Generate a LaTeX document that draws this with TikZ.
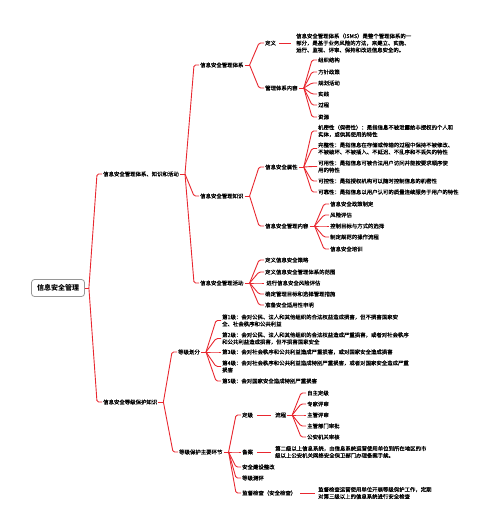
\documentclass[tikz,border=0pt]{standalone}
\usepackage{fontspec}
\setmainfont{Noto Sans CJK SC}
\newfontfamily\topicfont{Noto Sans CJK SC}[FakeBold=0.5]
\usetikzlibrary{positioning}
\definecolor{branchred}{RGB}{232,40,48}
\definecolor{rootgray}{RGB}{150,150,150}

\begin{document}
\begin{tikzpicture}[
  x=1pt, y=-1pt,
  topic/.style={anchor=west, inner sep=1pt, font=\topicfont\fontsize{5.4}{7}\selectfont, align=left},
  rootbox/.style={draw=rootgray, rounded corners=3pt, line width=0.8pt, fill=white, font=\bfseries\fontsize{7}{8}\selectfont, minimum width=53pt, minimum height=17pt, inner sep=2pt},
  branch/.style={draw=branchred, line width=0.9pt, rounded corners=1.5pt},
  link/.style={draw=branchred, line width=0.9pt}
]
\useasboundingbox (0,0) rectangle (500,532);

% Root
\node[rootbox] (root) at (58,288) {信息安全管理};
\coordinate (jroot) at ([xshift=4pt]root.east);
\draw[link] (root.east) -- (jroot);

% Level 1
\node[topic] (sys) at (102,174) {信息安全管理体系、知识和活动};
\node[topic] (grade) at (102,402) {信息安全等级保护知识};
\foreach \c in {sys,grade}
  \draw[branch] (jroot) -- ([xshift=-5pt]\c.west) -- (\c.west);

% Level 2: management system, knowledge, activities
\node[topic] (isms) at (199,65) {信息安全管理体系};
\node[topic] (know) at (199,196) {信息安全管理知识};
\node[topic] (act) at (199,283) {信息安全管理活动};
\coordinate (jsys) at ([xshift=5pt]sys.east);
\draw[link] (sys.east) -- (jsys);
\foreach \c in {isms,know,act}
  \draw[branch] (jsys) -- ([xshift=-5pt]\c.west) -- (\c.west);

% Management system
\node[topic] (def) at (264,43) {定义};
\node[topic] (defnote) at (295,43) {信息安全管理体系（ISMS）是整个管理体系的一\\部分，是基于业务风险的方法，来建立、实施、\\运行、监视、评审、保持和改进信息安全的。};
\node[topic] (cont) at (264,88) {管理体系内容};
\coordinate (jisms) at ([xshift=5pt]isms.east);
\draw[link] (isms.east) -- (jisms);
\foreach \c in {def,cont}
  \draw[branch] (jisms) -- ([xshift=-5pt]\c.west) -- (\c.west);
\draw[link] ([xshift=2pt]def.east) -- ([xshift=-4pt]defnote.west);

\node[topic] (c1) at (317,60) {组织结构};
\node[topic] (c2) at (317,72) {方针政策};
\node[topic] (c3) at (317,83) {规划活动};
\node[topic] (c4) at (317,94) {实践};
\node[topic] (c5) at (317,105) {过程};
\node[topic] (c6) at (317,117) {资源};
\coordinate (jcont) at ([xshift=5pt]cont.east);
\draw[link] (cont.east) -- (jcont);
\foreach \c in {c1,c2,c3,c4,c5,c6}
  \draw[branch] (jcont) -- ([xshift=-5pt]\c.west) -- (\c.west);

% Knowledge
\node[topic] (attr) at (264,167) {信息安全属性};
\node[topic] (mgmt) at (264,226) {信息安全管理内容};
\coordinate (jknow) at ([xshift=5pt]know.east);
\draw[link] (know.east) -- (jknow);
\foreach \c in {attr,mgmt}
  \draw[branch] (jknow) -- ([xshift=-5pt]\c.west) -- (\c.west);

\node[topic] (p1) at (317,131) {机密性（保密性）：是指信息不被泄露给非授权的个人和\\实体，或供其使用的特性};
\node[topic] (p2) at (317,148.5) {完整性：是指信息在存储或传输的过程中保持不被修改、\\不被破坏、不被插入、不延迟、不乱序和不丢失的特性};
\node[topic] (p3) at (317,166.5) {可用性：是指信息可被合法用户访问并能按要求顺序使\\用的特性};
\node[topic] (p4) at (317,181) {可控性：是指授权机构可以随时控制信息的机密性};
\node[topic] (p5) at (317,192) {可靠性：是指信息以用户认可的质量连续服务于用户的特性};
\coordinate (jattr) at ([xshift=5pt]attr.east);
\draw[link] (attr.east) -- (jattr);
\foreach \c in {p1,p2,p3,p4,p5}
  \draw[branch] (jattr) -- ([xshift=-5pt]\c.west) -- (\c.west);

\node[topic] (m1) at (329,204) {信息安全政策制定};
\node[topic] (m2) at (329,215) {风险评估};
\node[topic] (m3) at (329,226) {控制目标与方式的选择};
\node[topic] (m4) at (329,237) {制定规范的操作流程};
\node[topic] (m5) at (329,249) {信息安全培训};
\coordinate (jmgmt) at ([xshift=5pt]mgmt.east);
\draw[link] (mgmt.east) -- (jmgmt);
\foreach \c in {m1,m2,m3,m4,m5}
  \draw[branch] (jmgmt) -- ([xshift=-5pt]\c.west) -- (\c.west);

% Activities
\node[topic] (t1) at (264,260) {定义信息安全策略};
\node[topic] (t2) at (264,272) {定义信息安全管理体系的范围};
\node[topic] (t3) at (264,283) {\ 进行信息安全风险评估};
\node[topic] (t4) at (264,294) {确定管理目标和选择管理措施};
\node[topic] (t5) at (264,305) {准备安全适用性申明};
\coordinate (jact) at ([xshift=5pt]act.east);
\draw[link] (act.east) -- (jact);
\foreach \c in {t1,t2,t3,t4,t5}
  \draw[branch] (jact) -- ([xshift=-5pt]\c.west) -- (\c.west);

% Level 2: grade protection
\node[topic] (level) at (177,352) {等级划分};
\node[topic] (key) at (178,452) {等级保护主要环节};
\coordinate (jgrade) at ([xshift=5pt]grade.east);
\draw[link] (grade.east) -- (jgrade);
\foreach \c in {level,key}
  \draw[branch] (jgrade) -- ([xshift=-5pt]\c.west) -- (\c.west);

\node[topic] (g1) at (221,320.5) {第1级：会对公民、法人和其他组织的合法权益造成损害，但不损害国家安\\全、社会秩序和公共利益};
\node[topic] (g2) at (221,338.5) {第2级：会对公民、法人和其他组织的合法权益造成严重损害，或者对社会秩序\\和公共利益造成损害，但不损害国家安全};
\node[topic] (g3) at (221,352) {第3级：会对社会秩序和公共利益造成严重损害，或对国家安全造成损害};
\node[topic] (g4) at (221,366.5) {第4级：会对社会秩序和公共利益造成特别严重损害，或者对国家安全造成严重\\损害};
\node[topic] (g5) at (221,381) {第5级：会对国家安全造成特别严重损害};
\coordinate (jlevel) at ([xshift=5pt]level.east);
\draw[link] (level.east) -- (jlevel);
\foreach \c in {g1,g2,g3,g4,g5}
  \draw[branch] (jlevel) -- ([xshift=-5pt]\c.west) -- (\c.west);

% Main steps
\node[topic] (k1) at (241,415) {定级};
\node[topic] (k2) at (241,452) {备案};
\node[topic] (k3) at (241,467) {安全建设整改};
\node[topic] (k4) at (241,478) {等级测评};
\node[topic] (k5) at (241,493) {监督检查（安全检查）};
\coordinate (jkey) at ([xshift=5pt]key.east);
\draw[link] (key.east) -- (jkey);
\foreach \c in {k1,k2,k3,k4,k5}
  \draw[branch] (jkey) -- ([xshift=-5pt]\c.west) -- (\c.west);

\node[topic] (flow) at (274,415) {流程};
\draw[link] ([xshift=3pt]k1.east) -- ([xshift=-3pt]flow.west);
\node[topic] (f1) at (306,393) {自主定级};
\node[topic] (f2) at (306,404) {专家评审};
\node[topic] (f3) at (306,415) {主管评审};
\node[topic] (f4) at (306,426) {主管部门审批};
\node[topic] (f5) at (306,437) {公安机关审核};
\coordinate (jflow) at ([xshift=5pt]flow.east);
\draw[link] (flow.east) -- (jflow);
\foreach \c in {f1,f2,f3,f4,f5}
  \draw[branch] (jflow) -- ([xshift=-5pt]\c.west) -- (\c.west);

\node[topic] (k2note) at (274,452) {第二级以上信息系统，由信息系统运营使用单位到所在地区的市\\级以上公安机关网络安全保卫部门办理备案手续。};
\draw[link] ([xshift=3pt]k2.east) -- ([xshift=-3pt]k2note.west);
\node[topic] (k5note) at (317,493) {监督检查运营使用单位开展等级保护工作，定期\\对第三级以上的信息系统进行安全检查};
\draw[link] ([xshift=3pt]k5.east) -- ([xshift=-2pt]k5note.west);

\end{tikzpicture}
\end{document}
